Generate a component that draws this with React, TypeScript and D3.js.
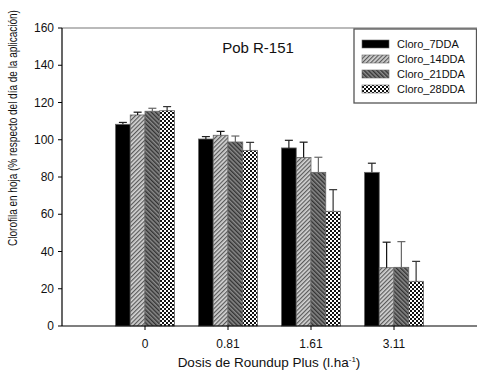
import React from "react";
import * as d3 from "d3";

const categories = ["0", "0.81", "1.61", "3.11"];
const seriesNames = ["Cloro_7DDA", "Cloro_14DDA", "Cloro_21DDA", "Cloro_28DDA"];
const cloro7 = [108.3, 100.4, 95.6, 82.5];
const cloro14 = [113.3, 102.4, 90.5, 31.3];
const cloro21 = [115.3, 98.8, 82.5, 31.5];
const cloro28 = [115.6, 94.3, 61.6, 24.0];
const err7 = [1.0, 1.3, 4.1, 4.9];
const err14 = [1.5, 2.1, 8.2, 13.7];
const err21 = [1.6, 3.2, 8.1, 13.8];
const err28 = [2.2, 4.3, 11.6, 10.7];
const yTicks = [0, 20, 40, 60, 80, 100, 120, 140, 160];

const values = [cloro7, cloro14, cloro21, cloro28];
const errors = [err7, err14, err21, err28];
const fills = ["#000", "url(#p14)", "url(#p21)", "url(#p28)"];
const errColors = ["#222", "#111", "#666", "#333"];

const W = 477, H = 379;
const left = 62, right = 477, top = 28, bottom = 326;

export default function App() {
  const x = d3.scaleLinear().domain([0, 5]).range([left, right]);
  const y = d3.scaleLinear().domain([0, 160]).range([bottom, top]);
  const bw = 14.75;
  const font = "'Liberation Sans', Arial, sans-serif";
  return (
    <svg width={W} height={H} style={{ position: "absolute", left: 0, top: 0 }} fontFamily={font}>
      <defs>
        <pattern id="p14" patternUnits="userSpaceOnUse" width="3" height="3" patternTransform="rotate(45)">
          <rect width="3" height="3" fill="#d4d4d4" />
          <rect width="1.2" height="3" fill="#5a5a5a" />
        </pattern>
        <pattern id="p21" patternUnits="userSpaceOnUse" width="3" height="3" patternTransform="rotate(-45)">
          <rect width="3" height="3" fill="#8a8a8a" />
          <rect width="1.4" height="3" fill="#333" />
        </pattern>
        <pattern id="p28" patternUnits="userSpaceOnUse" width="4" height="4">
          <rect width="4" height="4" fill="#fff" />
          <rect width="2" height="2" fill="#111" />
          <rect x="2" y="2" width="2" height="2" fill="#111" />
        </pattern>
      </defs>
      <rect width={W} height={H} fill="#fff" />
      {categories.map((c, i) => {
        const cx = x(i + 1);
        return values.map((vals, s) => {
          const bx = cx - 2 * bw + s * bw;
          const v = vals[i];
          const e = errors[s][i];
          const xm = bx + bw / 2;
          return (
            <g key={c + s}>
              <rect x={bx} y={y(v)} width={bw} height={y(0) - y(v)} fill={fills[s]} stroke="#666" strokeWidth={0.8} />
              <line x1={xm} x2={xm} y1={y(v)} y2={y(v + e)} stroke={errColors[s]} strokeWidth={1.2} />
              <line x1={xm - 4} x2={xm + 4} y1={y(v + e)} y2={y(v + e)} stroke={errColors[s]} strokeWidth={1.2} />
            </g>
          );
        });
      })}
      <line x1={left} x2={right} y1={top} y2={top} stroke="#777" strokeWidth={1.2} />
      <line x1={left} x2={right} y1={bottom} y2={bottom} stroke="#000" strokeWidth={1.2} />
      <line x1={left} x2={left} y1={top} y2={bottom} stroke="#000" strokeWidth={1.2} />
      {yTicks.map((t) => (
        <g key={t}>
          <line x1={left - 4} x2={left} y1={y(t)} y2={y(t)} stroke="#000" strokeWidth={1} />
          <text x={54} y={y(t)} dy="0.35em" textAnchor="end" fontSize={12} fill="#111">{t}</text>
        </g>
      ))}
      {categories.map((c, i) => (
        <g key={c}>
          <line x1={x(i + 1)} x2={x(i + 1)} y1={bottom} y2={bottom + 4} stroke="#000" strokeWidth={1} />
          <text x={x(i + 1)} y={348} textAnchor="middle" fontSize={12} fill="#111">{c}</text>
        </g>
      ))}
      <text x={269} y={367} textAnchor="middle" fontSize={13.5} fill="#111">
        Dosis de Roundup Plus (l.ha<tspan dy="-5" fontSize={8}>-1</tspan><tspan dy="5">)</tspan>
      </text>
      <text transform={`translate(17,128) rotate(-90) scale(0.8,1)`} textAnchor="middle" fontSize={12.5} fill="#111">
        Clorofila en hoja (% respecto del día de la aplicación)
      </text>
      <text x={258} y={53} textAnchor="middle" fontSize={15} fill="#111">Pob R-151</text>
      <rect x={354} y={29} width={122.5} height={74} fill="#fff" stroke="#555" strokeWidth={1.3} />
      {seriesNames.map((n, s) => (
        <g key={n}>
          <rect x={362} y={40 + s * 15} width={27} height={8} fill={fills[s]} stroke="#666" strokeWidth={0.6} />
          <text x={397} y={44 + s * 15} dy="0.35em" fontSize={11} fill="#111">{n}</text>
        </g>
      ))}
    </svg>
  );
}
